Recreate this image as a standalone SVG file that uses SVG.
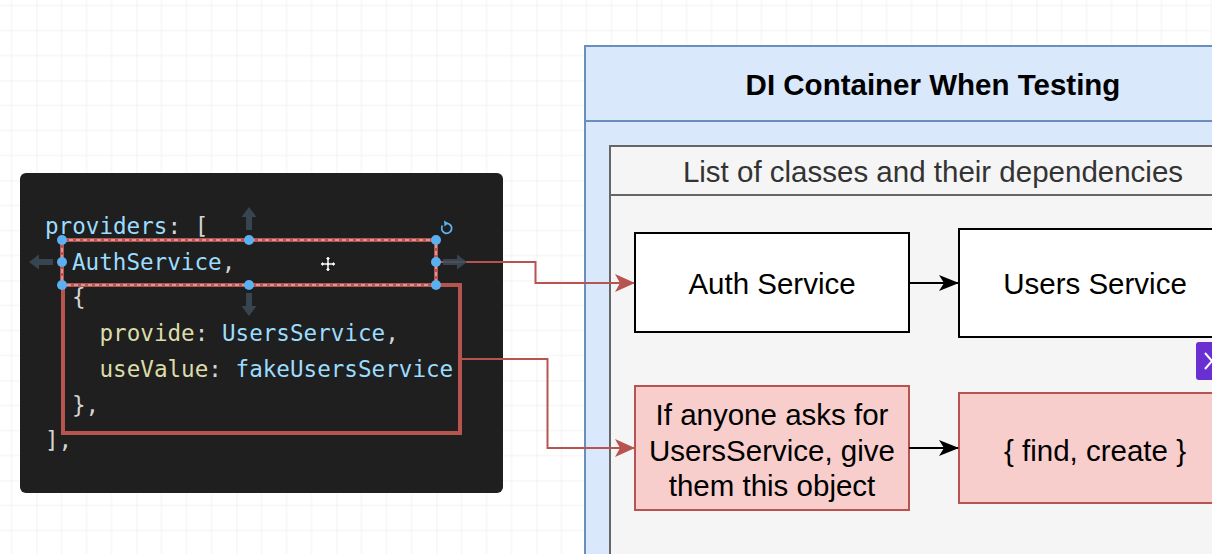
<svg xmlns="http://www.w3.org/2000/svg" width="1212" height="554" viewBox="0 0 1212 554">
<style>
.lbl{font-family:"Liberation Sans",Arial,sans-serif;font-size:29.5px;fill:#000;text-anchor:middle}
.code{font-family:"DejaVu Sans Mono","Liberation Mono",monospace;font-size:22.6px}
.b{fill:#9cdcfe}.y{fill:#dcdcaa}.p{fill:#d4d4d4}
.h{fill:#5ab0f0}
.nav{fill:#3b4c59;opacity:0.85}
.red{fill:none;stroke:#b85450;stroke-width:2}
.blk{fill:none;stroke:#000;stroke-width:2}
</style>
<defs>
<pattern id="grid" x="36.5" y="80.5" width="100" height="100" patternUnits="userSpaceOnUse">
<path d="M25,0V100M50,0V100M75,0V100M0,25H100M0,50H100M0,75H100" stroke="#f1f1f1" stroke-width="1" fill="none"/>
<path d="M0,0V100M0,0H100" stroke="#e6e6e6" stroke-width="1" fill="none"/>
</pattern>
<marker id="ar" viewBox="0 0 20 18" refX="19" refY="9" markerWidth="20" markerHeight="18" markerUnits="userSpaceOnUse" orient="auto">
<path d="M0,0 L20,9 L0,18 L5,9 Z" fill="#b85450"/>
</marker>
<marker id="ab" viewBox="0 0 20 16" refX="19" refY="8" markerWidth="20" markerHeight="16" markerUnits="userSpaceOnUse" orient="auto">
<path d="M0,0 L20,8 L0,16 L5,8 Z" fill="#000"/>
</marker>
</defs>
<rect x="0" y="0" width="1212" height="554" fill="#fff"/>
<rect x="0" y="0" width="1212" height="554" fill="url(#grid)"/>

<g id="container">
<rect x="585" y="46" width="700" height="600" fill="#dae8fc" stroke="#6c8ebf" stroke-width="2"/>
<line x1="585" y1="121" x2="1212" y2="121" stroke="#6c8ebf" stroke-width="2"/>
<text x="933" y="95" class="lbl" style="font-weight:bold">DI Container When Testing</text>
</g>

<g id="list">
<rect x="610" y="146" width="700" height="500" fill="#f5f5f5" stroke="#666" stroke-width="2"/>
<line x1="610" y1="195" x2="1212" y2="195" stroke="#666" stroke-width="2"/>
<text x="933" y="182" class="lbl" style="fill:#333">List of classes and their dependencies</text>
</g>

<g id="auth-service">
<rect x="635" y="233" width="274" height="99" fill="#fff" stroke="#000" stroke-width="2"/>
<text x="772" y="294" class="lbl">Auth Service</text>
</g>
<g id="users-service">
<rect x="959" y="229" width="272" height="108" fill="#fff" stroke="#000" stroke-width="2"/>
<text x="1095" y="294" class="lbl">Users Service</text>
</g>
<g id="provide-rule">
<rect x="635" y="386" width="274" height="124" fill="#f8cecc" stroke="#b85450" stroke-width="2"/>
<text x="772" y="425" class="lbl">If anyone asks for</text>
<text x="772" y="461" class="lbl">UsersService, give</text>
<text x="772" y="496" class="lbl">them this object</text>
</g>
<g id="fake-object">
<rect x="959" y="393" width="272" height="110" fill="#f8cecc" stroke="#b85450" stroke-width="2"/>
<text x="1095" y="461" class="lbl">{ find, create }</text>
</g>

<g id="purple-widget">
<rect x="1196" y="342" width="30" height="38" rx="3" fill="#6a2fd0"/>
<path d="M1205,353 L1219,369 M1205,369 L1219,353" stroke="#fff" stroke-width="2" fill="none"/>
</g>

<g id="code-panel">
<rect x="20" y="173" width="483" height="320" rx="6" fill="#1f1f1f"/>
<text class="code" x="45" y="234"><tspan class="b">providers</tspan><tspan class="p">: [</tspan></text>
<text class="code" x="72" y="269.5"><tspan class="b">AuthService</tspan><tspan class="p">,</tspan></text>
<text class="code p" x="72" y="305">{</text>
<text class="code" x="99.5" y="340.7"><tspan class="y">provide</tspan><tspan class="p">: </tspan><tspan class="b">UsersService</tspan><tspan class="p">,</tspan></text>
<text class="code" x="99.5" y="376.5"><tspan class="y">useValue</tspan><tspan class="p">: </tspan><tspan class="b">fakeUsersService</tspan></text>
<text class="code p" x="72" y="412.5">},</text>
<text class="code p" x="45" y="448">],</text>
</g>

<g id="highlight-object">
<rect x="63" y="285" width="397" height="148" fill="none" stroke="#b85450" stroke-width="4"/>
</g>
<g id="highlight-auth">
<rect x="62" y="240" width="374" height="45" fill="none" stroke="#b85450" stroke-width="4"/>
<rect x="62" y="240" width="374" height="45" fill="none" stroke="#fff" stroke-width="1" stroke-dasharray="4 3" opacity="0.8"/>
</g>

<g id="connectors">
<path class="red" d="M436,262 H535.5 V283 H634" marker-end="url(#ar)"/>
<path class="red" d="M460,359 H547.5 V448 H634" marker-end="url(#ar)"/>
<path class="blk" d="M909,283 H958" marker-end="url(#ab)"/>
<path class="blk" d="M909,448 H958" marker-end="url(#ab)"/>
</g>

<g id="selection-handles">
<polygon class="nav" points="249,207 256.5,217 252,217 252,230 246,230 246,217 241.5,217"/>
<polygon class="nav" points="249,316 256.5,306 252,306 252,293 246,293 246,306 241.5,306"/>
<polygon class="nav" points="29,262 39,254.5 39,259 53,259 53,265 39,265 39,269.5"/>
<polygon class="nav" points="467,262 457,254.5 457,259 443,259 443,265 457,265 457,269.5"/>
<circle class="h" cx="62" cy="240" r="5"/>
<circle class="h" cx="249" cy="240" r="5"/>
<circle class="h" cx="436" cy="240" r="5"/>
<circle class="h" cx="62" cy="262" r="5"/>
<circle class="h" cx="436" cy="262" r="5"/>
<circle class="h" cx="62" cy="285" r="5"/>
<circle class="h" cx="249" cy="285" r="5"/>
<circle class="h" cx="436" cy="285" r="5"/>
<path d="M442.5,225.5 A5,5 0 1 0 447,223.3" fill="none" stroke="#5ab0f0" stroke-width="1.8"/>
<path d="M444,220.5 L448.5,223.3 L444.5,226.5 Z" fill="#5ab0f0"/>
<path d="M328,256 L331,259.5 L329.2,259.5 L329.2,262.8 L332.5,262.8 L332.5,261 L336,264 L332.5,267 L332.5,265.2 L329.2,265.2 L329.2,268.5 L331,268.5 L328,272 L325,268.5 L326.8,268.5 L326.8,265.2 L323.5,265.2 L323.5,267 L320,264 L323.5,261 L323.5,262.8 L326.8,262.8 L326.8,259.5 L325,259.5 Z" fill="#fff" stroke="#000" stroke-width="0.8"/>
</g>
</svg>
